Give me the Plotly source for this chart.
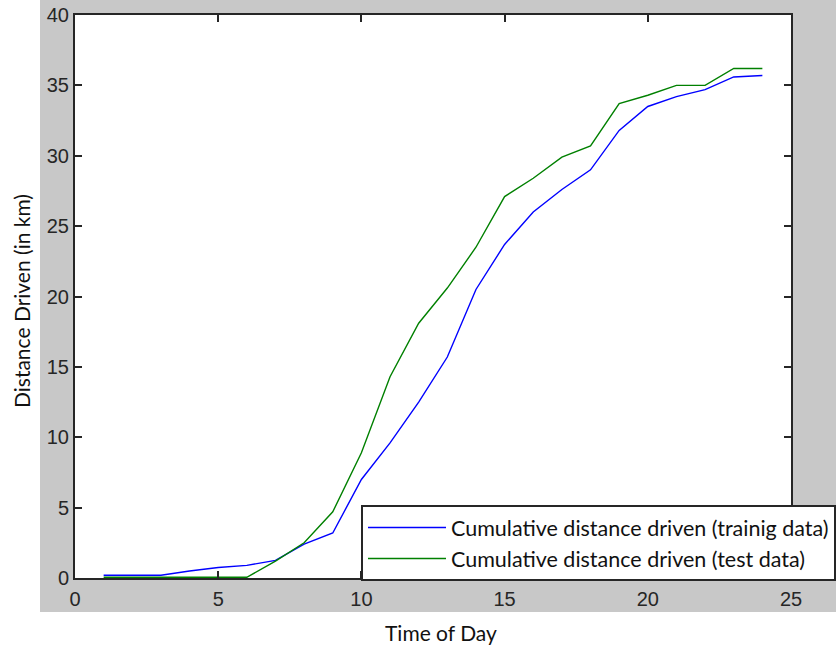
import plotly.graph_objects as go

hours = list(range(1, 25))
training_km = [0.2, 0.2, 0.2, 0.5, 0.75, 0.9, 1.25, 2.4, 3.2, 7.0, 9.6, 12.5,
               15.7, 20.5, 23.7, 26.0, 27.6, 29.0, 31.8, 33.5, 34.2, 34.7, 35.6, 35.7]
test_km = [0.05, 0.05, 0.05, 0.05, 0.05, 0.05, 1.2, 2.5, 4.7, 8.9, 14.3, 18.1,
           20.6, 23.5, 27.1, 28.4, 29.9, 30.7, 33.7, 34.3, 35.0, 35.0, 36.2, 36.2]
x_ticks = [0, 5, 10, 15, 20, 25]
y_ticks = [0, 5, 10, 15, 20, 25, 30, 35, 40]
x_title = "Time of Day"
y_title = "Distance Driven (in km)"

W, H = 836, 649
L, R, T, B = 75, 45, 15, 71
pw, ph = W - L - R, H - T - B

def px_x(p):
    return (p - L) / pw

def px_y(p):
    return (H - B - p) / ph

fig = go.Figure()
fig.add_trace(go.Scatter(x=hours, y=training_km, mode="lines",
                         name="Cumulative distance driven (trainig data)",
                         line=dict(color="#0000ff", width=1.4)))
fig.add_trace(go.Scatter(x=hours, y=test_km, mode="lines",
                         name="Cumulative distance driven (test data)",
                         line=dict(color="#008000", width=1.4)))

# white strips outside the grey figure area
fig.add_shape(type="rect", xref="paper", yref="paper",
              x0=px_x(-5), x1=px_x(40), y0=px_y(H + 5), y1=px_y(-5),
              fillcolor="white", line=dict(width=0), layer="below")
fig.add_shape(type="rect", xref="paper", yref="paper",
              x0=px_x(-5), x1=px_x(W + 5), y0=px_y(H + 5), y1=px_y(612),
              fillcolor="white", line=dict(width=0), layer="below")

title_font = dict(family="Lato", size=21, color="#111")
fig.add_annotation(text=x_title, xref="paper", yref="paper",
                   x=px_x(441), y=px_y(632), xanchor="center", yanchor="middle",
                   showarrow=False, font=title_font)
fig.add_annotation(text=y_title, xref="paper", yref="paper",
                   x=px_x(21), y=px_y(301), xanchor="center", yanchor="middle",
                   textangle=-90, showarrow=False, font=title_font)

axis_common = dict(showgrid=False, zeroline=False, showline=True, linecolor="#262626",
                   linewidth=2, mirror="ticks", ticks="inside", ticklen=7, tickwidth=1.5,
                   tickcolor="#262626", automargin=False,
                   tickfont=dict(family="Liberation Sans, Arial", size=20, color="#262626"))

fig.update_xaxes(range=[0, 25], tickvals=x_ticks, ticklabelstandoff=2, **axis_common)
fig.update_yaxes(range=[0, 40], tickvals=y_ticks, ticklabelstandoff=0, **axis_common)

fig.update_layout(
    width=W, height=H,
    margin=dict(l=L, r=R, t=T, b=B, autoexpand=False),
    paper_bgcolor="#c8c8c8", plot_bgcolor="white",
    showlegend=True,
    legend=dict(x=px_x(361), y=px_y(581), xanchor="left", yanchor="bottom",
                bgcolor="white", bordercolor="#262626", borderwidth=2,
                font=dict(family="Lato", size=21.5, color="#111"),
                itemwidth=78, tracegroupgap=0),
)

fig.write_html("out.html", config={"displayModeBar": False},
               post_script="document.body.style.margin='0';document.body.style.padding='0';")
